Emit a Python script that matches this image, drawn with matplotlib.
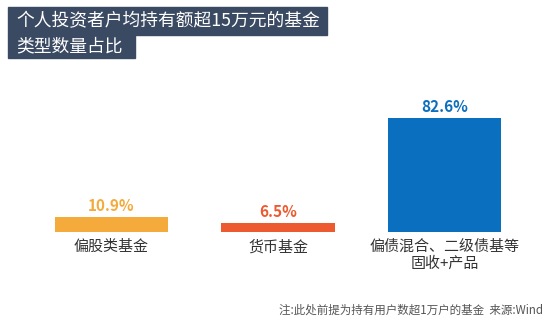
import matplotlib
matplotlib.use("Agg")
import matplotlib.pyplot as plt
from matplotlib.patches import Rectangle

plt.rcParams['font.family'] = ['Noto Sans CJK SC', 'DejaVu Sans']

categories = ["偏股类基金", "货币基金", "偏债混合、二级债基等\n固收+产品"]
values = [10.9, 6.5, 82.6]
colours = ["#f5ab3c", "#ee5a30", "#0b6fbf"]
title_lines = ["个人投资者户均持有额超15万元的基金", "类型数量占比"]
note = "注:此处前提为持有用户数超1万户的基金  来源:Wind"

W, H = 550, 322
fig = plt.figure(figsize=(W / 100, H / 100), dpi=100)

def fx(px): return px / W
def fy(py): return 1 - py / H

# title boxes
navy = "#3b4a63"
fig.patches.append(Rectangle((fx(8), fy(35)), fx(327) - fx(8), fy(7) - fy(35),
                             transform=fig.transFigure, color=navy))
fig.patches.append(Rectangle((fx(8), fy(58)), fx(135) - fx(8), fy(35) - fy(58),
                             transform=fig.transFigure, color=navy))
fig.text(fx(16), fy(21), title_lines[0], color="white", fontsize=12.8, va="center", ha="left")
fig.text(fx(16), fy(46), title_lines[1], color="white", fontsize=12.8, va="center", ha="left")

# axes: bar centres at 0,1,2
ax = fig.add_axes([fx(28.25), fy(232), fx(527.75) - fx(28.25), fy(94) - fy(232)])
x = range(len(values))
ax.bar(x, values, width=0.68, color=colours)
ax.set_xlim(-0.5, 2.5)
ax.set_ylim(0, 100)
ax.axis("off")

for i, v in enumerate(values):
    ax.text(i, v + 2.5, "{:.1f}%".format(v), ha="center", va="bottom",
            color=colours[i], fontsize=11, fontweight="bold")
    ax.text(i, -5.5, categories[i], ha="center", va="top", color="#333333",
            fontsize=10.8, linespacing=1.2)

fig.text(fx(543), fy(310), note, ha="right", va="center", color="#555555", fontsize=8.3)

fig.savefig("out.png", dpi=100)
